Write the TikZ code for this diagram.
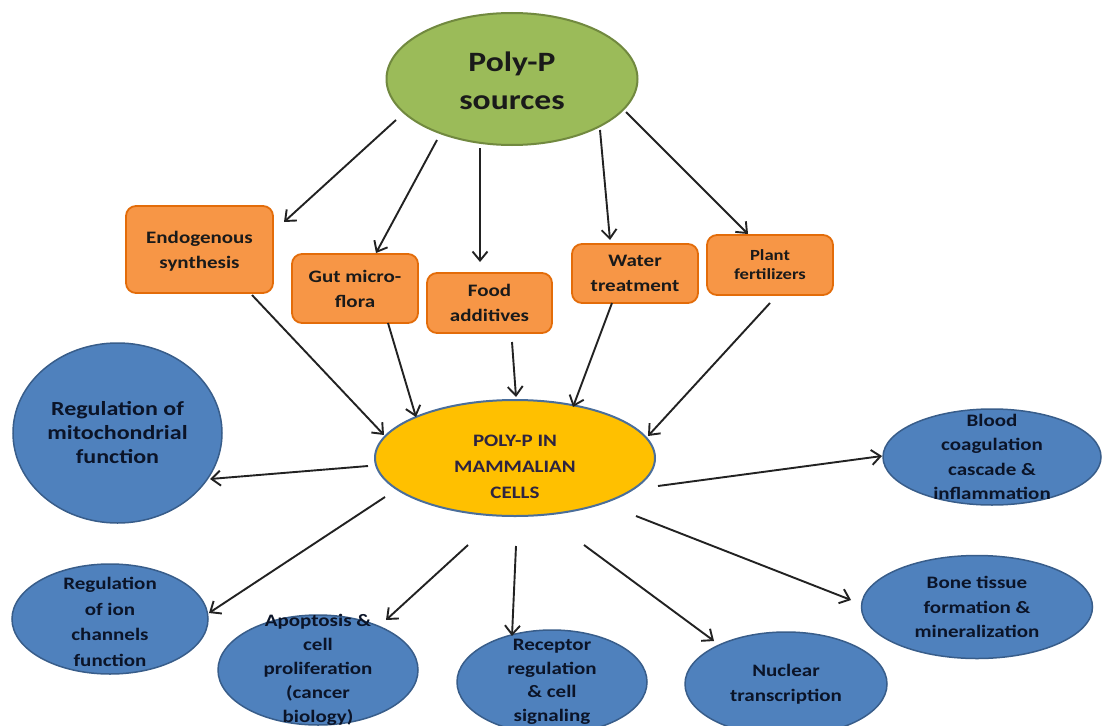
\documentclass[tikz,border=0pt]{standalone}
\usepackage{fontspec}
\setmainfont{Carlito}[FakeStretch=1.2]
\usetikzlibrary{shapes.geometric,arrows.meta,calc}
\definecolor{srcfill}{HTML}{9BBB59}
\definecolor{srcdraw}{HTML}{71893F}
\definecolor{boxfill}{HTML}{F79646}
\definecolor{boxdraw}{HTML}{E36C09}
\definecolor{cellfill}{HTML}{FFC000}
\definecolor{celldraw}{HTML}{4A6E9A}
\definecolor{bluefill}{HTML}{4F81BD}
\definecolor{bluedraw}{HTML}{385D8A}
\definecolor{bluetext}{HTML}{0B1428}
\definecolor{darktext}{HTML}{1A1A1A}
\definecolor{celltext}{HTML}{2E2440}
\definecolor{arrowc}{HTML}{222222}
\tikzset{
  arr/.style={draw=arrowc, line width=1.9pt,
    -{Straight Barb[length=9pt,width=15pt,line width=1.9pt]}},
  srcnode/.style={ellipse, fill=srcfill, draw=srcdraw, line width=2pt,
    inner sep=-60pt, align=center, text=darktext,
    font=\fontsize{28}{38}\selectfont\bfseries},
  cellnode/.style={ellipse, fill=cellfill, draw=celldraw, line width=2pt,
    inner sep=-60pt, align=center, text=celltext,
    font=\fontsize{17.5}{26}\selectfont\bfseries},
  srcbox/.style={rectangle, rounded corners=10pt, fill=boxfill, draw=boxdraw,
    line width=1.8pt, inner sep=2pt, align=center, text=darktext,
    font=\fontsize{17.5}{25}\selectfont\bfseries},
  effect/.style={ellipse, fill=bluefill, draw=bluedraw, line width=1.5pt,
    inner sep=-60pt, align=center, text=bluetext,
    font=\fontsize{17.5}{24.5}\selectfont\bfseries},
}
\begin{document}
\begin{tikzpicture}[x=1pt,y=-1pt]
\path[use as bounding box] (0,0) rectangle (1102,725);
\clip (0,0) rectangle (1102,725);
\fill[white] (0,0) rectangle (1102,725);

% source ellipse
\node[srcnode, minimum width=251pt, minimum height=132pt] (src) at (512,79) {\rule{0pt}{24pt}Poly-P\\sources};

% source boxes
\node[srcbox, minimum width=147pt, minimum height=87pt] (endo) at (199.5,249.5) {\rule{0pt}{16pt}Endogenous\\synthesis};
\node[srcbox, minimum width=126pt, minimum height=69pt] (gut) at (355,288.5) {Gut micro-\\flora};
\node[srcbox, minimum width=125pt, minimum height=60pt] (food) at (489.5,303) {Food\\additives};
\node[srcbox, minimum width=126pt, minimum height=59pt] (water) at (635,273.5) {Water\\treatment};
\node[srcbox, minimum width=126pt, minimum height=60pt, font=\fontsize{15.5}{19}\selectfont\bfseries] (plant) at (770,265) {Plant\\fertilizers};

% central ellipse
\node[cellnode, minimum width=280pt, minimum height=116pt] (cell) at (515,458) {\rule{0pt}{30pt}POLY-P IN\\MAMMALIAN\\CELLS};

% effects
\node[effect, minimum width=209pt, minimum height=180pt, font=\fontsize{20}{24}\selectfont\bfseries] (mito) at (117.5,433) {Regulation of\\mitochondrial\\function};
\node[effect, minimum width=218pt, minimum height=96pt] (blood) at (992,457) {Blood\\coagulation\\cascade \&\\inflammation};
\node[effect, minimum width=196pt, minimum height=110pt, font=\fontsize{17.5}{25.5}\selectfont\bfseries] (ion) at (110,619) {\rule{0pt}{18pt}Regulation\\of ion\\channels\\function};
\node[effect, minimum width=200pt, minimum height=110pt, font=\fontsize{17.5}{24}\selectfont\bfseries] (apop) at (318,670) {Apoptosis \&\\cell\\proliferation\\(cancer\\biology)};
\node[effect, minimum width=190pt, minimum height=104pt, font=\fontsize{17.5}{23.5}\selectfont\bfseries] (recep) at (552,682) {Receptor\\regulation\\\& cell\\signaling};
\node[effect, minimum width=202pt, minimum height=104pt] (nuc) at (786,684) {Nuclear\\transcription};
\node[effect, minimum width=231pt, minimum height=103pt] (bone) at (977,607) {Bone tissue\\formation \&\\mineralization};

% arrows from sources
\draw[arr] ($(src)+(-116,41)$) -- ($(endo)+(84.5,-27.5)$);
\draw[arr] ($(src)+(-75,61)$) -- ($(gut)+(21,-35.5)$);
\draw[arr] ($(src)+(-32,69)$) -- ($(food)+(-9.5,-41)$);
\draw[arr] ($(src)+(88,51)$) -- ($(water)+(-25,-33.5)$);
\draw[arr] ($(src)+(114,33)$) -- ($(plant)+(-22,-31)$);

% arrows into the cell
\draw[arr] ($(endo)+(52.5,45.5)$) -- ($(cell)+(-131,-23)$);
\draw[arr] ($(gut)+(33,34.5)$) -- ($(cell)+(-99,-41)$);
\draw[arr] ($(food)+(22.5,39)$) -- ($(cell)+(1,-61)$);
\draw[arr] ($(water)+(-23,29.5)$) -- ($(cell)+(58,-51)$);
\draw[arr] ($(plant)+(0,38)$) -- ($(cell)+(133,-22)$);

% arrows out of the cell
\draw[arr] ($(cell)+(-147,8)$) -- ($(mito)+(92.5,46)$);
\draw[arr] ($(cell)+(143,28)$) -- ($(blood)+(-110,-1)$);
\draw[arr] ($(cell)+(-130,39)$) -- ($(ion)+(99,-6)$);
\draw[arr] ($(cell)+(-47,87)$) -- ($(apop)+(68,-50)$);
\draw[arr] ($(cell)+(1,88)$) -- ($(recep)+(-40,-46)$);
\draw[arr] ($(cell)+(69,87)$) -- ($(nuc)+(-72,-43)$);
\draw[arr] ($(cell)+(121,58)$) -- ($(bone)+(-126,-7)$);
\end{tikzpicture}
\end{document}
